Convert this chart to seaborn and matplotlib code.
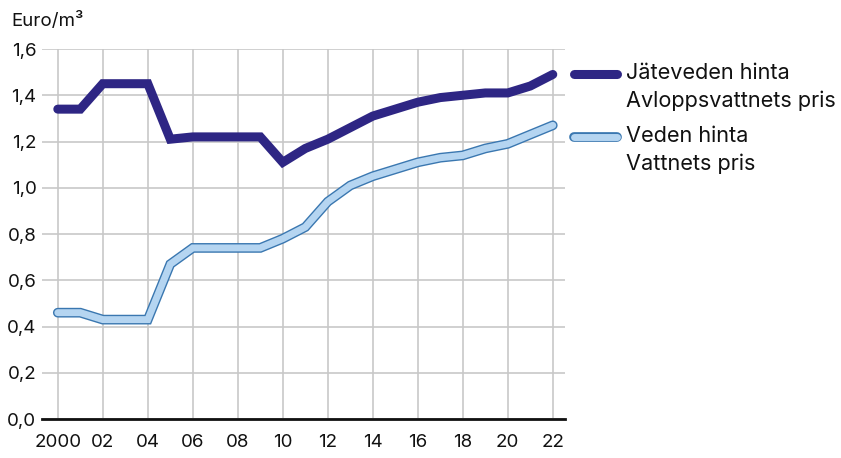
import numpy as np
import pandas as pd
import matplotlib
matplotlib.use('Agg')
import matplotlib.pyplot as plt
import seaborn as sns
from matplotlib.lines import Line2D
from matplotlib.legend_handler import HandlerLine2D
import matplotlib.patheffects as pe

# data
years = list(range(2000, 2023))
wastewater = [1.34, 1.34, 1.45, 1.45, 1.45, 1.21, 1.22, 1.22, 1.22, 1.22, 1.11, 1.17,
              1.21, 1.26, 1.31, 1.34, 1.37, 1.39, 1.40, 1.41, 1.41, 1.44, 1.49]
water = [0.46, 0.46, 0.43, 0.43, 0.43, 0.67, 0.74, 0.74, 0.74, 0.74, 0.78, 0.83,
         0.94, 1.01, 1.05, 1.08, 1.11, 1.13, 1.14, 1.17, 1.19, 1.23, 1.27]
xtick_years = list(range(2000, 2023, 2))
xtick_labels = ['2000', '02', '04', '06', '08', '10', '12', '14', '16', '18', '20', '22']
ytick_vals = [0.0, 0.2, 0.4, 0.6, 0.8, 1.0, 1.2, 1.4, 1.6]
label_waste = 'Jäteveden hinta\nAvloppsvattnets pris'
label_water = 'Veden hinta\nVattnets pris'

dark = '#2e2684'
light_fill = '#b5d5f1'
light_edge = '#3a77b0'
grid_col = '#c8c8c8'

df = pd.DataFrame({'year': years, 'waste': wastewater, 'water': water})


class TopLineHandler(HandlerLine2D):
    # put the legend line next to the first text line instead of the middle
    def create_artists(self, legend, orig_handle, xdescent, ydescent, width, height,
                       fontsize, trans):
        arts = super().create_artists(legend, orig_handle, xdescent, ydescent, width,
                                      height, fontsize, trans)
        for a in arts:
            a.set_ydata(np.asarray(a.get_ydata()) + 0.62 * fontsize)
        return arts


sns.set_style('white')
plt.rcParams['font.family'] = ['Inter', 'DejaVu Sans']

fig = plt.figure(figsize=(8.41, 4.58), dpi=100)
ax = fig.add_axes([0.05, 0.085, 0.622, 0.808])

# water price: outlined light line
sns.lineplot(data=df, x='year', y='water', ax=ax, color=light_fill, linewidth=5,
             solid_capstyle='round', solid_joinstyle='miter', zorder=4,
             path_effects=[pe.Stroke(linewidth=7, foreground=light_edge, capstyle='round'),
                           pe.Normal()])
# wastewater price: thick dark line
sns.lineplot(data=df, x='year', y='waste', ax=ax, color=dark, linewidth=6.5,
             solid_capstyle='round', solid_joinstyle='miter', zorder=5)

ax.set_xlim(1999.3, 2022.55)
ax.set_ylim(0, 1.6)
ax.set_xticks(xtick_years)
ax.set_xticklabels(xtick_labels)
ax.set_yticks(ytick_vals)
ax.set_yticklabels([f'{v:.1f}'.replace('.', ',') for v in ytick_vals])
ax.set_xlabel('')
ax.set_ylabel('')

ax.grid(True, color=grid_col, linewidth=1.2)
ax.set_axisbelow(True)
for s in ['top', 'right', 'left']:
    ax.spines[s].set_visible(False)
ax.spines['bottom'].set_color('#111111')
ax.spines['bottom'].set_linewidth(2)
ax.spines['bottom'].set_zorder(6)

ax.tick_params(axis='x', length=9, width=1.2, color=grid_col, labelsize=13.5, pad=2,
               labelcolor='#111111')
ax.tick_params(axis='y', length=0, labelsize=13.5, pad=4, labelcolor='#111111')

fig.text(0.014, 0.955, 'Euro/m³', fontsize=13.5, color='#111111', va='center')

handles = [
    Line2D([0], [0], color=dark, linewidth=6.5, solid_capstyle='round'),
    Line2D([0], [0], color=light_fill, linewidth=5, solid_capstyle='round',
           path_effects=[pe.Stroke(linewidth=7, foreground=light_edge, capstyle='round'),
                         pe.Normal()]),
]
leg = fig.legend(handles, [label_waste, label_water], loc='upper left',
                 bbox_to_anchor=(0.682, 0.862), frameon=False, fontsize=15.6,
                 borderpad=0, borderaxespad=0,
                 handlelength=2.0, handletextpad=0.4, labelspacing=0.7,
                 labelcolor='#111111', handler_map={Line2D: TopLineHandler()})
for t in leg.get_texts():
    t.set_linespacing(1.45)

fig.savefig('out.png', dpi=100)
